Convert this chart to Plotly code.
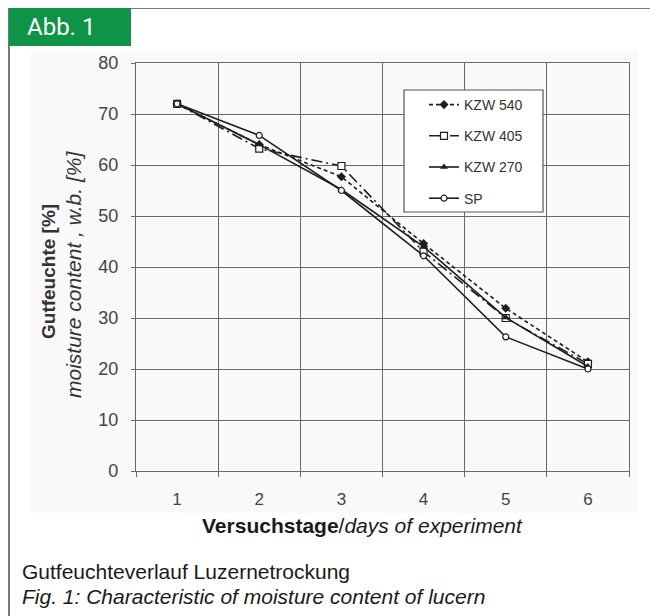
import plotly.graph_objects as go

days = [1, 2, 3, 4, 5, 6]
kzw540 = [72, 64, 57.7, 44.6, 31.9, 21.4]
kzw405 = [72, 63.2, 59.8, 43.0, 30.0, 21.0]
kzw270 = [72, 64, 55.2, 44.0, 30.1, 20.5]
sp = [72, 65.8, 55.0, 42.2, 26.3, 20.0]
y_ticks = [0, 10, 20, 30, 40, 50, 60, 70, 80]
series_names = ["KZW 540", "KZW 405", "KZW 270", "SP"]

# page has an 8px body margin: figure occupies (8,8)-(658,616)
OFF = 8
W, H = 658 - OFF, 616 - OFF
def px(x):
    return (x - OFF) / W
def py(y):
    return (616 - y) / H

LC = "#1e1e1e"
GRID = "#6a6a6a"

fig = go.Figure()
fig.add_trace(go.Scatter(x=days, y=kzw540, name=series_names[0], legendgroup="a",
    mode="lines+markers", line=dict(color=LC, width=1.6, dash="4px,3px"),
    marker=dict(symbol="diamond", size=7, color=LC)))
fig.add_trace(go.Scatter(x=days, y=kzw405, name=series_names[1], legendgroup="b",
    mode="lines+markers", line=dict(color=LC, width=1.6, dash="11px,4px,2px,4px"),
    marker=dict(symbol="square", size=7, color="white", line=dict(color=LC, width=1.2))))
fig.add_trace(go.Scatter(x=days, y=kzw270, name=series_names[2], legendgroup="c",
    mode="lines+markers", line=dict(color=LC, width=1.6),
    marker=dict(symbol="triangle-up", size=7, color=LC)))
fig.add_trace(go.Scatter(x=days, y=sp, name=series_names[3], legendgroup="d",
    mode="lines+markers", line=dict(color=LC, width=1.6),
    marker=dict(symbol="circle", size=6, color="white", line=dict(color=LC, width=1.2))))

shapes = [
    # light grey chart panel
    dict(type="rect", xref="paper", yref="paper", x0=px(31), x1=px(638), y0=py(513), y1=py(50),
         fillcolor="#f9f9f9", line=dict(width=0), layer="below"),
    # frame lines
    dict(type="line", xref="paper", yref="paper", x0=px(9), x1=1, y0=py(8), y1=py(8),
         line=dict(color="#7a7a7a", width=2)),
    dict(type="line", xref="paper", yref="paper", x0=px(9), x1=px(9), y0=py(8), y1=0,
         line=dict(color="#7a7a7a", width=2)),
    # green label box
    dict(type="rect", xref="paper", yref="paper", x0=px(9), x1=px(131), y0=py(46), y1=py(8),
         fillcolor="#0d9447", line=dict(width=0)),
    # legend box
    dict(type="rect", xref="paper", yref="paper", x0=px(404), x1=px(543), y0=py(212), y1=py(90),
         fillcolor="white", line=dict(color="#555555", width=1.2), layer="above"),
]

annotations = [
    dict(text="Abb. 1", xref="paper", yref="paper", x=px(25), y=py(27), xanchor="left", yanchor="middle",
         showarrow=False, font=dict(family="Roboto", size=24, color="white")),
    dict(text="<b>Gutfeuchte [%]</b>", xref="paper", yref="paper", x=px(48), y=py(272),
         xanchor="center", yanchor="middle", textangle=-90, showarrow=False,
         font=dict(family="Liberation Sans", size=19, color="#333333")),
    dict(text="<i>moisture content , w.b. [%]</i>", xref="paper", yref="paper", x=px(73), y=py(275),
         xanchor="center", yanchor="middle", textangle=-90, showarrow=False,
         font=dict(family="Liberation Sans", size=21, color="#333333")),
    dict(text="<b>Versuchstage</b>/<i>days of experiment</i>", xref="paper", yref="paper",
         x=px(362), y=py(525), xanchor="center", yanchor="middle", showarrow=False,
         font=dict(family="Liberation Sans", size=21, color="#1a1a1a")),
    dict(text="Gutfeuchteverlauf Luzernetrockung", xref="paper", yref="paper",
         x=px(20), y=py(571), xanchor="left", yanchor="middle", showarrow=False,
         font=dict(family="Liberation Sans", size=21, color="#1a1a1a")),
    dict(text="<i>Fig. 1: Characteristic of moisture content of lucern</i>", xref="paper", yref="paper",
         x=px(20), y=py(596), xanchor="left", yanchor="middle", showarrow=False,
         font=dict(family="Liberation Sans", size=21, color="#1a1a1a")),
]

fig.update_layout(
    width=W, height=H,
    margin=dict(l=0, r=0, t=0, b=0, autoexpand=False),
    paper_bgcolor="white", plot_bgcolor="white",
    shapes=shapes, annotations=annotations,
    showlegend=True,
    legend=dict(x=px(424), y=py(89), xanchor="left", yanchor="top",
                bgcolor="rgba(0,0,0,0)", borderwidth=0, tracegroupgap=10,
                font=dict(family="Liberation Sans", size=14, color="#333333"),
                itemwidth=30),
    xaxis=dict(domain=[px(136), px(629)], range=[0.5, 6.5], automargin=False,
               tickvals=days, ticktext=[str(d) for d in days], ticks="",
               showgrid=False, zeroline=False,
               showline=True, mirror=True, linecolor=GRID, linewidth=1.2,
               tickfont=dict(family="Liberation Sans", size=17, color="#444444"),
               ticklabelstandoff=12,
               minor=dict(tickvals=[0.5, 1.5, 2.5, 3.5, 4.5, 5.5, 6.5], showgrid=True,
                          gridcolor=GRID, gridwidth=1, ticks="outside", ticklen=5,
                          tickcolor=GRID, tickwidth=1)),
    yaxis=dict(domain=[py(471), py(63)], range=[0, 80], tickvals=y_ticks, automargin=False,
               showgrid=True, gridcolor=GRID, gridwidth=1, zeroline=False,
               showline=True, mirror=True, linecolor=GRID, linewidth=1.2,
               ticks="outside", ticklen=4, tickcolor=GRID,
               tickfont=dict(family="Liberation Sans", size=18, color="#444444"),
               ticklabelstandoff=9),
)

fig.write_html("out.html")
